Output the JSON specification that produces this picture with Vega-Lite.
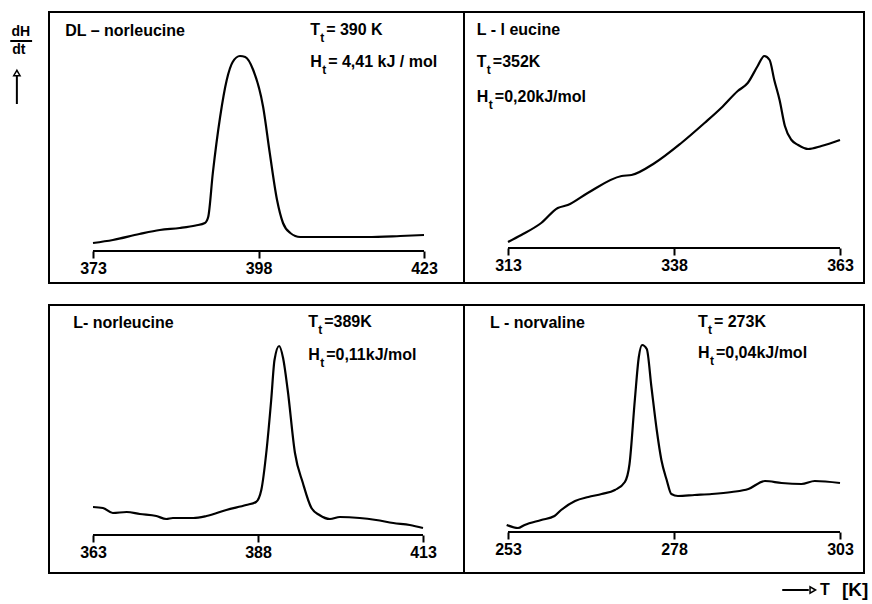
{
  "$schema": "https://vega.github.io/schema/vega-lite/v6.json",
  "autosize": "none",
  "padding": {"left": 49, "top": 12, "right": 823, "bottom": 592},
  "background": "white",
  "config": {
    "view": {"stroke": "black", "strokeWidth": 2},
    "axis": {"domain": false, "tickColor": "black", "tickWidth": 2, "tickSize": 7, "labelFont": "Liberation Sans", "labelFontWeight": "bold", "labelFontSize": 16, "labelColor": "black", "labelPadding": 2, "grid": false, "labelFlush": false, "labelOverlap": false},
    "text": {"font": "Liberation Sans", "fontWeight": "bold", "fontSize": 16, "color": "black", "baseline": "middle", "align": "left"},
    "line": {"color": "black", "strokeWidth": 2.2, "interpolate": "monotone"},
    "rule": {"color": "black", "strokeWidth": 2}
  },
  "datasets": {
    "tl": [
      {"T": 373, "h": 8}, {"T": 376, "h": 11}, {"T": 380, "h": 17}, {"T": 383.1, "h": 21}, {"T": 386.1, "h": 23}, {"T": 388.5, "h": 25.5}, {"T": 389.9, "h": 28}, {"T": 390.4, "h": 34}, {"T": 391.1, "h": 78}, {"T": 392.2, "h": 134}, {"T": 393.2, "h": 171}, {"T": 394.1, "h": 189}, {"T": 395.2, "h": 195}, {"T": 396, "h": 194}, {"T": 397.2, "h": 181}, {"T": 398.7, "h": 144}, {"T": 399.7, "h": 98}, {"T": 400.8, "h": 51}, {"T": 401.7, "h": 28}, {"T": 402.8, "h": 18}, {"T": 404.3, "h": 14}, {"T": 409.3, "h": 14}, {"T": 414.4, "h": 14}, {"T": 419.4, "h": 15}, {"T": 423, "h": 16}
    ],
    "tr": [
      {"T": 313, "h": 6}, {"T": 315, "h": 13}, {"T": 318, "h": 25}, {"T": 320.5, "h": 40}, {"T": 322, "h": 43}, {"T": 325, "h": 55}, {"T": 330.1, "h": 72}, {"T": 331.6, "h": 73}, {"T": 335.1, "h": 85}, {"T": 339.1, "h": 105}, {"T": 342.6, "h": 125}, {"T": 345.1, "h": 140}, {"T": 347.6, "h": 157}, {"T": 349.1, "h": 165}, {"T": 350.6, "h": 182}, {"T": 351.6, "h": 192}, {"T": 352.4, "h": 188}, {"T": 353.1, "h": 168}, {"T": 353.9, "h": 148}, {"T": 354.7, "h": 122}, {"T": 355.7, "h": 108}, {"T": 356.7, "h": 103}, {"T": 358.2, "h": 99}, {"T": 360.2, "h": 102}, {"T": 363, "h": 108}
    ],
    "bl": [
      {"T": 363, "h": 28}, {"T": 364.5, "h": 27}, {"T": 366.0, "h": 22}, {"T": 368.1, "h": 23}, {"T": 370.1, "h": 21}, {"T": 372.6, "h": 19}, {"T": 374.1, "h": 16}, {"T": 375.1, "h": 17}, {"T": 378.2, "h": 17}, {"T": 380.2, "h": 19}, {"T": 383.2, "h": 25}, {"T": 386.2, "h": 30}, {"T": 387.7, "h": 33}, {"T": 388.5, "h": 45}, {"T": 389.3, "h": 85}, {"T": 390.0, "h": 135}, {"T": 390.5, "h": 175}, {"T": 391.2, "h": 189}, {"T": 391.8, "h": 177}, {"T": 392.5, "h": 145}, {"T": 393.6, "h": 82}, {"T": 394.8, "h": 52}, {"T": 396.1, "h": 27}, {"T": 397.3, "h": 20}, {"T": 398.9, "h": 16}, {"T": 400.4, "h": 18}, {"T": 403.4, "h": 17}, {"T": 405.9, "h": 15}, {"T": 408.5, "h": 12}, {"T": 411.0, "h": 10}, {"T": 413, "h": 7}
    ],
    "br": [
      {"T": 252.8, "h": 7}, {"T": 254.5, "h": 4}, {"T": 255.5, "h": 7}, {"T": 258.0, "h": 12}, {"T": 260.0, "h": 16}, {"T": 261.0, "h": 22}, {"T": 263.1, "h": 31}, {"T": 265.1, "h": 35}, {"T": 267.1, "h": 38}, {"T": 269.1, "h": 42}, {"T": 270.6, "h": 50}, {"T": 271.3, "h": 68}, {"T": 272.1, "h": 132}, {"T": 272.7, "h": 175}, {"T": 273.2, "h": 187}, {"T": 273.9, "h": 183}, {"T": 274.6, "h": 145}, {"T": 275.4, "h": 102}, {"T": 276.1, "h": 72}, {"T": 276.9, "h": 52}, {"T": 277.6, "h": 38}, {"T": 278.6, "h": 36}, {"T": 281.1, "h": 37}, {"T": 283.7, "h": 38}, {"T": 286.7, "h": 40}, {"T": 289.2, "h": 43}, {"T": 291.7, "h": 51}, {"T": 294.2, "h": 49}, {"T": 297.2, "h": 48}, {"T": 299.2, "h": 51}, {"T": 303, "h": 49}
    ],
    "axes": [
      {"panel": "tl", "x": 373, "x2": 423, "y": 0},
      {"panel": "tr", "x": 313, "x2": 363, "y": 0},
      {"panel": "bl", "x": 363, "x2": 413, "y": 0},
      {"panel": "br", "x": 253, "x2": 303, "y": 0}
    ],
    "notes": [
      {"panel": "tl", "kind": "name", "x": 368.8, "y": 220, "label": "DL – norleucine"},
      {"panel": "tl", "kind": "T", "x": 405.8, "y": 221, "label": "= 390 K"},
      {"panel": "tl", "kind": "H", "x": 405.8, "y": 189, "label": "= 4,41 kJ / mol"},
      {"panel": "tr", "kind": "name", "x": 308.3, "y": 218, "label": "L - l eucine"},
      {"panel": "tr", "kind": "T", "x": 308.3, "y": 186, "label": "=352K"},
      {"panel": "tr", "kind": "H", "x": 308.3, "y": 151, "label": "=0,20kJ/mol"},
      {"panel": "bl", "kind": "name", "x": 360.0, "y": 212, "label": "L- norleucine"},
      {"panel": "bl", "kind": "T", "x": 395.6, "y": 213, "label": "=389K"},
      {"panel": "bl", "kind": "H", "x": 395.6, "y": 180, "label": "=0,11kJ/mol"},
      {"panel": "br", "kind": "name", "x": 250.3, "y": 209, "label": "L - norvaline"},
      {"panel": "br", "kind": "T", "x": 281.6, "y": 210, "label": "= 273K"},
      {"panel": "br", "kind": "H", "x": 281.6, "y": 179, "label": " =0,04kJ/mol"}
    ]
  },
  "columns": 2,
  "spacing": {"row": 22, "column": 0},
  "bounds": "flush",
  "concat": [
    {
      "width": 415, "height": 271,
      "layer": [
        {"data": {"name": "tl"}, "mark": {"type": "line"},
         "encoding": {"x": {"field": "T", "type": "quantitative", "scale": {"domain": [366.353, 429.04], "nice": false, "zero": false}, "axis": {"values": [373, 398, 423], "offset": -32, "title": null}},
                      "y": {"field": "h", "type": "quantitative", "scale": {"domain": [-32, 239], "nice": false, "zero": false}, "axis": null}}},
        {"data": {"name": "axes"}, "transform": [{"filter": "datum.panel === 'tl'"}], "mark": {"type": "rule"},
         "encoding": {"x": {"field": "x", "type": "quantitative"}, "x2": {"field": "x2"}, "y": {"field": "y", "type": "quantitative"}}},
        {"data": {"name": "notes"}, "transform": [{"filter": "datum.panel === 'tl' && datum.kind === 'name'"}], "mark": {"type": "text"},
         "encoding": {"x": {"field": "x", "type": "quantitative"}, "y": {"field": "y", "type": "quantitative"}, "text": {"field": "label"}}},
        {"data": {"name": "notes"}, "transform": [{"filter": "datum.panel === 'tl' && datum.kind !== 'name'"}], "mark": {"type": "text"},
         "encoding": {"x": {"field": "x", "type": "quantitative"}, "y": {"field": "y", "type": "quantitative"}, "text": {"field": "kind"}}},
        {"data": {"name": "notes"}, "transform": [{"filter": "datum.panel === 'tl' && datum.kind === 'T'"}], "mark": {"type": "text", "fontSize": 12, "dx": 10, "dy": 8},
         "encoding": {"x": {"field": "x", "type": "quantitative"}, "y": {"field": "y", "type": "quantitative"}, "text": {"value": "t"}}},
        {"data": {"name": "notes"}, "transform": [{"filter": "datum.panel === 'tl' && datum.kind === 'H'"}], "mark": {"type": "text", "fontSize": 12, "dx": 12, "dy": 8},
         "encoding": {"x": {"field": "x", "type": "quantitative"}, "y": {"field": "y", "type": "quantitative"}, "text": {"value": "t"}}},
        {"data": {"name": "notes"}, "transform": [{"filter": "datum.panel === 'tl' && datum.kind === 'T'"}], "mark": {"type": "text", "dx": 16},
         "encoding": {"x": {"field": "x", "type": "quantitative"}, "y": {"field": "y", "type": "quantitative"}, "text": {"field": "label"}}},
        {"data": {"name": "notes"}, "transform": [{"filter": "datum.panel === 'tl' && datum.kind === 'H'"}], "mark": {"type": "text", "dx": 18},
         "encoding": {"x": {"field": "x", "type": "quantitative"}, "y": {"field": "y", "type": "quantitative"}, "text": {"field": "label"}}},
        {"data": {"values": [{"x": 362.1, "y": 219, "label": "dH"}, {"x": 361.8, "y": 201, "label": "dt"}]}, "mark": {"type": "text", "align": "center", "fontSize": 14},
         "encoding": {"x": {"field": "x", "type": "quantitative"}, "y": {"field": "y", "type": "quantitative"}, "text": {"field": "label"}}},
        {"data": {"values": [{"x": 360.5, "x2": 363.8, "y": 210}]}, "mark": {"type": "rule"},
         "encoding": {"x": {"field": "x", "type": "quantitative"}, "x2": {"field": "x2"}, "y": {"field": "y", "type": "quantitative"}}},
        {"data": {"values": [{"x": 361.5, "y": 147, "y2": 176}]}, "mark": {"type": "rule"},
         "encoding": {"x": {"field": "x", "type": "quantitative"}, "y": {"field": "y", "type": "quantitative"}, "y2": {"field": "y2"}}},
        {"data": {"values": [{"x": 361.5, "y": 178}]}, "mark": {"type": "point", "shape": "triangle-up", "filled": true, "fill": "white", "stroke": "black", "strokeWidth": 1.5, "size": 40, "opacity": 1},
         "encoding": {"x": {"field": "x", "type": "quantitative"}, "y": {"field": "y", "type": "quantitative"}}}
      ]
    },
    {
      "width": 400, "height": 271,
      "layer": [
        {"data": {"name": "tr"}, "mark": {"type": "line"},
         "encoding": {"x": {"field": "T", "type": "quantitative", "scale": {"domain": [306.373, 366.614], "nice": false, "zero": false}, "axis": {"values": [313, 338, 363], "offset": -35, "title": null}},
                      "y": {"field": "h", "type": "quantitative", "scale": {"domain": [-35, 236], "nice": false, "zero": false}, "axis": null}}},
        {"data": {"name": "axes"}, "transform": [{"filter": "datum.panel === 'tr'"}], "mark": {"type": "rule"},
         "encoding": {"x": {"field": "x", "type": "quantitative"}, "x2": {"field": "x2"}, "y": {"field": "y", "type": "quantitative"}}},
        {"data": {"name": "notes"}, "transform": [{"filter": "datum.panel === 'tr' && datum.kind === 'name'"}], "mark": {"type": "text"},
         "encoding": {"x": {"field": "x", "type": "quantitative"}, "y": {"field": "y", "type": "quantitative"}, "text": {"field": "label"}}},
        {"data": {"name": "notes"}, "transform": [{"filter": "datum.panel === 'tr' && datum.kind !== 'name'"}], "mark": {"type": "text"},
         "encoding": {"x": {"field": "x", "type": "quantitative"}, "y": {"field": "y", "type": "quantitative"}, "text": {"field": "kind"}}},
        {"data": {"name": "notes"}, "transform": [{"filter": "datum.panel === 'tr' && datum.kind === 'T'"}], "mark": {"type": "text", "fontSize": 12, "dx": 10, "dy": 8},
         "encoding": {"x": {"field": "x", "type": "quantitative"}, "y": {"field": "y", "type": "quantitative"}, "text": {"value": "t"}}},
        {"data": {"name": "notes"}, "transform": [{"filter": "datum.panel === 'tr' && datum.kind === 'H'"}], "mark": {"type": "text", "fontSize": 12, "dx": 12, "dy": 8},
         "encoding": {"x": {"field": "x", "type": "quantitative"}, "y": {"field": "y", "type": "quantitative"}, "text": {"value": "t"}}},
        {"data": {"name": "notes"}, "transform": [{"filter": "datum.panel === 'tr' && datum.kind === 'T'"}], "mark": {"type": "text", "dx": 16},
         "encoding": {"x": {"field": "x", "type": "quantitative"}, "y": {"field": "y", "type": "quantitative"}, "text": {"field": "label"}}},
        {"data": {"name": "notes"}, "transform": [{"filter": "datum.panel === 'tr' && datum.kind === 'H'"}], "mark": {"type": "text", "dx": 18},
         "encoding": {"x": {"field": "x", "type": "quantitative"}, "y": {"field": "y", "type": "quantitative"}, "text": {"field": "label"}}}
      ]
    },
    {
      "width": 415, "height": 268,
      "layer": [
        {"data": {"name": "bl"}, "mark": {"type": "line"},
         "encoding": {"x": {"field": "T", "type": "quantitative", "scale": {"domain": [356.333, 419.212], "nice": false, "zero": false}, "axis": {"values": [363, 388, 413], "offset": -38, "title": null}},
                      "y": {"field": "h", "type": "quantitative", "scale": {"domain": [-38, 230], "nice": false, "zero": false}, "axis": null}}},
        {"data": {"name": "axes"}, "transform": [{"filter": "datum.panel === 'bl'"}], "mark": {"type": "rule"},
         "encoding": {"x": {"field": "x", "type": "quantitative"}, "x2": {"field": "x2"}, "y": {"field": "y", "type": "quantitative"}}},
        {"data": {"name": "notes"}, "transform": [{"filter": "datum.panel === 'bl' && datum.kind === 'name'"}], "mark": {"type": "text"},
         "encoding": {"x": {"field": "x", "type": "quantitative"}, "y": {"field": "y", "type": "quantitative"}, "text": {"field": "label"}}},
        {"data": {"name": "notes"}, "transform": [{"filter": "datum.panel === 'bl' && datum.kind !== 'name'"}], "mark": {"type": "text"},
         "encoding": {"x": {"field": "x", "type": "quantitative"}, "y": {"field": "y", "type": "quantitative"}, "text": {"field": "kind"}}},
        {"data": {"name": "notes"}, "transform": [{"filter": "datum.panel === 'bl' && datum.kind === 'T'"}], "mark": {"type": "text", "fontSize": 12, "dx": 10, "dy": 8},
         "encoding": {"x": {"field": "x", "type": "quantitative"}, "y": {"field": "y", "type": "quantitative"}, "text": {"value": "t"}}},
        {"data": {"name": "notes"}, "transform": [{"filter": "datum.panel === 'bl' && datum.kind === 'H'"}], "mark": {"type": "text", "fontSize": 12, "dx": 12, "dy": 8},
         "encoding": {"x": {"field": "x", "type": "quantitative"}, "y": {"field": "y", "type": "quantitative"}, "text": {"value": "t"}}},
        {"data": {"name": "notes"}, "transform": [{"filter": "datum.panel === 'bl' && datum.kind === 'T'"}], "mark": {"type": "text", "dx": 16},
         "encoding": {"x": {"field": "x", "type": "quantitative"}, "y": {"field": "y", "type": "quantitative"}, "text": {"field": "label"}}},
        {"data": {"name": "notes"}, "transform": [{"filter": "datum.panel === 'bl' && datum.kind === 'H'"}], "mark": {"type": "text", "dx": 18},
         "encoding": {"x": {"field": "x", "type": "quantitative"}, "y": {"field": "y", "type": "quantitative"}, "text": {"field": "label"}}}
      ]
    },
    {
      "width": 400, "height": 268,
      "layer": [
        {"data": {"name": "br"}, "mark": {"type": "line"},
         "encoding": {"x": {"field": "T", "type": "quantitative", "scale": {"domain": [246.373, 306.614], "nice": false, "zero": false}, "axis": {"values": [253, 278, 303], "offset": -41, "title": null}},
                      "y": {"field": "h", "type": "quantitative", "scale": {"domain": [-41, 227], "nice": false, "zero": false}, "axis": null}}},
        {"data": {"name": "axes"}, "transform": [{"filter": "datum.panel === 'br'"}], "mark": {"type": "rule"},
         "encoding": {"x": {"field": "x", "type": "quantitative"}, "x2": {"field": "x2"}, "y": {"field": "y", "type": "quantitative"}}},
        {"data": {"name": "notes"}, "transform": [{"filter": "datum.panel === 'br' && datum.kind === 'name'"}], "mark": {"type": "text"},
         "encoding": {"x": {"field": "x", "type": "quantitative"}, "y": {"field": "y", "type": "quantitative"}, "text": {"field": "label"}}},
        {"data": {"name": "notes"}, "transform": [{"filter": "datum.panel === 'br' && datum.kind !== 'name'"}], "mark": {"type": "text"},
         "encoding": {"x": {"field": "x", "type": "quantitative"}, "y": {"field": "y", "type": "quantitative"}, "text": {"field": "kind"}}},
        {"data": {"name": "notes"}, "transform": [{"filter": "datum.panel === 'br' && datum.kind === 'T'"}], "mark": {"type": "text", "fontSize": 12, "dx": 10, "dy": 8},
         "encoding": {"x": {"field": "x", "type": "quantitative"}, "y": {"field": "y", "type": "quantitative"}, "text": {"value": "t"}}},
        {"data": {"name": "notes"}, "transform": [{"filter": "datum.panel === 'br' && datum.kind === 'H'"}], "mark": {"type": "text", "fontSize": 12, "dx": 12, "dy": 8},
         "encoding": {"x": {"field": "x", "type": "quantitative"}, "y": {"field": "y", "type": "quantitative"}, "text": {"value": "t"}}},
        {"data": {"name": "notes"}, "transform": [{"filter": "datum.panel === 'br' && datum.kind === 'T'"}], "mark": {"type": "text", "dx": 16},
         "encoding": {"x": {"field": "x", "type": "quantitative"}, "y": {"field": "y", "type": "quantitative"}, "text": {"field": "label"}}},
        {"data": {"name": "notes"}, "transform": [{"filter": "datum.panel === 'br' && datum.kind === 'H'"}], "mark": {"type": "text", "dx": 18},
         "encoding": {"x": {"field": "x", "type": "quantitative"}, "y": {"field": "y", "type": "quantitative"}, "text": {"field": "label"}}},
        {"data": {"values": [{"x": 294.3, "x2": 298.3, "y": -58}]}, "mark": {"type": "rule"},
         "encoding": {"x": {"field": "x", "type": "quantitative"}, "x2": {"field": "x2"}, "y": {"field": "y", "type": "quantitative"}}},
        {"data": {"values": [{"x": 298.9, "y": -58}]}, "mark": {"type": "point", "shape": "triangle-right", "filled": true, "fill": "white", "stroke": "black", "strokeWidth": 1.5, "size": 40, "opacity": 1},
         "encoding": {"x": {"field": "x", "type": "quantitative"}, "y": {"field": "y", "type": "quantitative"}}},
        {"data": {"values": [{"x": 300.0, "y": -58, "label": "T"}]}, "mark": {"type": "text", "fontSize": 16},
         "encoding": {"x": {"field": "x", "type": "quantitative"}, "y": {"field": "y", "type": "quantitative"}, "text": {"field": "label"}}},
        {"data": {"values": [{"x": 303.3, "y": -58, "label": "[K]"}]}, "mark": {"type": "text", "fontSize": 19},
         "encoding": {"x": {"field": "x", "type": "quantitative"}, "y": {"field": "y", "type": "quantitative"}, "text": {"field": "label"}}}
      ]
    }
  ]
}
